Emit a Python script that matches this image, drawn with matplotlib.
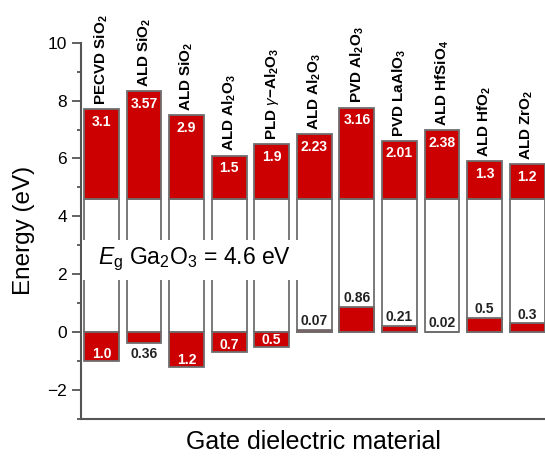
import numpy as np
import matplotlib
matplotlib.use("Agg")
import matplotlib.pyplot as plt
from matplotlib.ticker import MultipleLocator
from matplotlib.patches import Rectangle

plt.rcParams['font.family'] = ['Liberation Sans', 'DejaVu Sans']
plt.rcParams['mathtext.fontset'] = 'custom'
plt.rcParams['mathtext.rm'] = 'Liberation Sans'
plt.rcParams['mathtext.it'] = 'Liberation Sans:italic'
plt.rcParams['mathtext.bf'] = 'Liberation Sans:bold'

# ---- data ----
categories = [r"PECVD SiO$_\mathbf{2}$", r"ALD SiO$_\mathbf{2}$", r"ALD SiO$_\mathbf{2}$",
              r"ALD Al$_\mathbf{2}$O$_\mathbf{3}$", r"PLD $\gamma$−Al$_\mathbf{2}$O$_\mathbf{3}$",
              r"ALD Al$_\mathbf{2}$O$_\mathbf{3}$", r"PVD Al$_\mathbf{2}$O$_\mathbf{3}$",
              r"PVD LaAlO$_\mathbf{3}$", r"ALD HfSiO$_\mathbf{4}$", r"ALD HfO$_\mathbf{2}$",
              r"ALD ZrO$_\mathbf{2}$"]
# conduction band offsets (drawn heights above Ga2O3 CBM) and their printed labels
cbo_values = [3.1, 3.72, 2.9, 1.5, 1.9, 2.23, 3.16, 2.01, 2.38, 1.3, 1.2]
cbo_labels = ["3.1", "3.57", "2.9", "1.5", "1.9", "2.23", "3.16", "2.01", "2.38", "1.3", "1.2"]
# valence band offsets (negative = below Ga2O3 VBM)
vbo_values = [-1.0, -0.36, -1.2, -0.7, -0.5, 0.07, 0.86, 0.21, 0.02, 0.5, 0.3]
vbo_labels = ["1.0", "0.36", "1.2", "0.7", "0.5", "0.07", "0.86", "0.21", "0.02", "0.5", "0.3"]
EG = 4.6

RED = "#cc0000"
EDGE = "#6e6e6e"

fig = plt.figure(figsize=(5.45, 4.58), dpi=100)
ax = fig.add_axes([81/545, 0.0852, 1 - 81/545, 0.8216])

x = np.arange(1, len(categories) + 1)
w = 0.82
gap = np.full(len(x), EG)

ax.bar(x, gap, width=w, bottom=0, color="white", edgecolor=EDGE, linewidth=1.3, zorder=2)
ax.bar(x, cbo_values, width=w, bottom=gap, color=RED, edgecolor=EDGE, linewidth=1.3, zorder=3)
ax.bar(x, vbo_values, width=w, bottom=0, color=RED, edgecolor=EDGE, linewidth=1.3, zorder=3)

for xi, c, cl, cat in zip(x, cbo_values, cbo_labels, categories):
    top = EG + c
    ax.annotate(cl, (xi, top), xytext=(0, -4), textcoords="offset points",
                ha="center", va="top", color="white", fontsize=10, fontweight="bold", zorder=5)
    ax.annotate(cat, (xi, top), xytext=(0, 3), textcoords="offset points",
                ha="center", va="bottom", rotation=90, color="black", fontsize=11,
                fontweight="bold", zorder=5)

for xi, v, vl in zip(x, vbo_values, vbo_labels):
    if v <= -0.5:
        ax.annotate(vl, (xi, v), xytext=(0, 2.2), textcoords="offset points",
                    ha="center", va="baseline", color="white", fontsize=10, fontweight="bold", zorder=5)
    elif v < 0:
        ax.annotate(vl, (xi, v), xytext=(0, -3), textcoords="offset points",
                    ha="center", va="top", color="#222222", fontsize=10, fontweight="bold", zorder=5)
    else:
        ax.annotate(vl, (xi, v), xytext=(0, 3.5), textcoords="offset points",
                    ha="center", va="baseline", color="#222222", fontsize=10, fontweight="bold", zorder=5)

# white mask behind band-gap annotation
ax.add_patch(Rectangle((0.55, 1.8), 5.13, 1.38, facecolor="white", edgecolor="none", zorder=4))
ax.text(0.92, 2.5, r"$E_{\mathrm{g}}$ Ga$_2$O$_3$ = 4.6 eV", fontsize=16.5,
        ha="left", va="center", zorder=6)

ax.set_xlim(0.52, 11.42)
ax.set_ylim(-3, 10)
ax.yaxis.set_major_locator(MultipleLocator(2))
ax.yaxis.set_minor_locator(MultipleLocator(1))
ax.set_xticks([])
ax.tick_params(axis="y", which="major", direction="out", length=6.5, width=1.3,
               labelsize=12.5, pad=3.5, color="#555555")
ax.tick_params(axis="y", which="minor", direction="out", length=3, width=1.3, color="#555555")
for s in ["top", "right"]:
    ax.spines[s].set_visible(False)
for s in ["left", "bottom"]:
    ax.spines[s].set_color("#555555")
    ax.spines[s].set_linewidth(1.5)

ax.set_ylabel("Energy (eV)", fontsize=17.5)
ax.yaxis.set_label_coords(-0.1, 0.5)
ax.set_xlabel("Gate dielectric material", fontsize=18, labelpad=8)

fig.savefig("out.png", dpi=100)
